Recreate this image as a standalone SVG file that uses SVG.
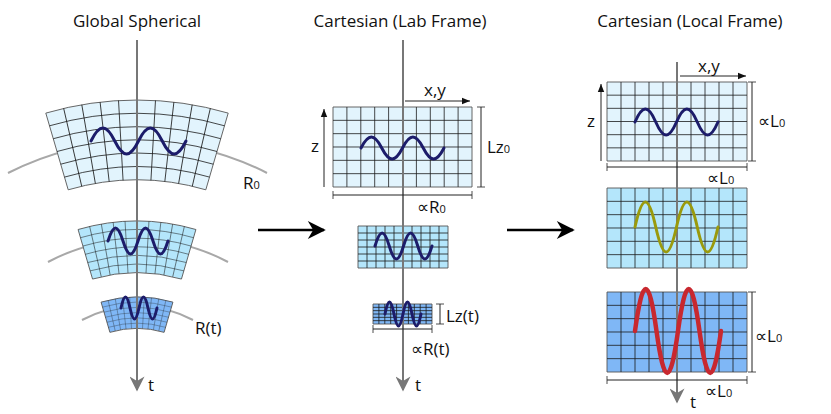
<svg xmlns="http://www.w3.org/2000/svg" xmlns:xlink="http://www.w3.org/1999/xlink" width="831" height="414" viewBox="0 0 831 414">
<style>
text{font-family:"Open Sans","Liberation Sans",sans-serif;fill:#111;}
.title{font-size:17px;text-anchor:middle;}
.lbl{font-size:17px;}
.sub{font-size:11px;}
.gl{fill:none;stroke:#1a1a1a;stroke-width:0.8;vector-effect:non-scaling-stroke;}
.bd{stroke:#555;stroke-width:0.9;vector-effect:non-scaling-stroke;}
.c1{fill:#e2f4fd;}
.c2{fill:#b4e6fb;}
.c3{fill:#7fb7f6;}
.ring{fill:none;stroke:#a8a8a8;stroke-width:2;}
.axis{stroke:#777;stroke-width:2;fill:none;}
.dim{stroke:#222;stroke-width:1;fill:none;}
.wv{fill:none;stroke:#1c1c6a;stroke-width:3;stroke-linecap:round;}
</style>
<defs>
<marker id="ah" viewBox="0 0 10 10" refX="9" refY="5" markerWidth="18" markerHeight="15" orient="auto" markerUnits="userSpaceOnUse"><path d="M0 0L10 5L0 10L3 5Z" fill="#777"/></marker>
<marker id="sa" viewBox="0 0 10 10" refX="10" refY="5" markerWidth="8" markerHeight="8" orient="auto" markerUnits="userSpaceOnUse"><path d="M0 1L10 5L0 9Z" fill="#111"/></marker>
<marker id="ba" viewBox="0 0 10 10" refX="9" refY="5" markerWidth="22" markerHeight="18" orient="auto" markerUnits="userSpaceOnUse"><path d="M0 0L10 5L0 10L3 5Z" fill="#000"/></marker>
<marker id="tk" viewBox="0 0 2 10" refX="1" refY="5" markerWidth="2" markerHeight="8" orient="auto" markerUnits="userSpaceOnUse"><path d="M1 0V10" stroke="#222" stroke-width="1"/></marker>
<path id="cg" class="gl" d="M1 0V6M2 0V6M3 0V6M4 0V6M5 0V6M6 0V6M7 0V6M8 0V6M9 0V6M0 1H10M0 2H10M0 3H10M0 4H10M0 5H10"/>
<g id="sg">
<path class="bd" d="M-91.2 -311.9A325 325 0 0 1 91.2 -311.9L68.8 -235.2A245 245 0 0 0 -68.8 -235.2Z"/>
<g class="gl">
<path d="M-87.5 -299.2A311.7 311.7 0 0 1 87.5 -299.2M-83.7 -286.3A298.3 298.3 0 0 1 83.7 -286.3M-80 -273.5A285 285 0 0 1 80 -273.5M-76.3 -260.8A271.7 271.7 0 0 1 76.3 -260.8M-72.5 -247.9A258.3 258.3 0 0 1 72.5 -247.9"/>
<path d="M0 -325V-245"/>
<path d="M0 -325V-245" transform="rotate(3.26)"/><path d="M0 -325V-245" transform="rotate(6.52)"/><path d="M0 -325V-245" transform="rotate(9.78)"/><path d="M0 -325V-245" transform="rotate(13.04)"/>
<path d="M0 -325V-245" transform="rotate(-3.26)"/><path d="M0 -325V-245" transform="rotate(-6.52)"/><path d="M0 -325V-245" transform="rotate(-9.78)"/><path d="M0 -325V-245" transform="rotate(-13.04)"/>
</g>
</g>
</defs>
<rect width="831" height="414" fill="#fff"/>

<g id="titles">
<text class="title" x="137" y="27">Global Spherical</text>
<text class="title" x="400" y="27">Cartesian (Lab Frame)</text>
<text class="title" x="690" y="27">Cartesian (Local Frame)</text>
</g>

<g id="connectors">
<path class="axis" d="M137 40V390" marker-end="url(#ah)"/>
<path class="axis" d="M403 40V390" marker-end="url(#ah)"/>
<path class="axis" d="M677 62V402" marker-end="url(#ah)"/>
<path d="M258 230H324" stroke="#000" stroke-width="2.5" marker-end="url(#ba)"/>
<path d="M507 230H573" stroke="#000" stroke-width="2.5" marker-end="url(#ba)"/>
</g>

<g id="spherical">
<path class="ring" d="M8 173A283 283 0 0 1 267 173"/>
<path class="ring" d="M48 262A191 191 0 0 1 228 262"/>
<path class="ring" d="M82 320A119 119 0 0 1 193 320"/>
<use xlink:href="#sg" class="c1" transform="translate(137 425)"/>
<use xlink:href="#sg" class="c2" transform="translate(137 431) scale(0.646)"/>
<use xlink:href="#sg" class="c3" transform="translate(137 425) scale(0.394)"/>
<path class="axis" d="M137 95V200M137 215V280M137 292V330"/>
<path class="wv" d="M91 141c8.55 -17.3 15.2 -17.3 23.75 0c8.55 17.3 15.2 17.3 23.75 0c8.55 -17.3 15.2 -17.3 23.75 0c8.55 17.3 15.2 17.3 23.75 0"/>
<path class="wv" d="M108 241c5.4 -17.3 9.6 -17.3 15 0c5.4 17.3 9.6 17.3 15 0c5.4 -17.3 9.6 -17.3 15 0c5.4 17.3 9.6 17.3 15 0"/>
<path class="wv" d="M121 308c3.24 -14.6 5.76 -14.6 9 0c3.24 14.6 5.76 14.6 9 0c3.24 -14.6 5.76 -14.6 9 0c3.24 14.6 5.76 14.6 9 0"/>
<text class="lbl" x="243" y="189">R<tspan class="sub">0</tspan></text>
<text class="lbl" x="195" y="334">R(t)</text>
<text class="lbl" x="148" y="391">t</text>
</g>

<g id="lab">
<rect class="c1 bd" x="333" y="107" width="139" height="80"/>
<use xlink:href="#cg" transform="translate(333 107) scale(13.9 13.333)"/>
<rect class="c2 bd" x="358" y="226" width="90" height="42"/>
<use xlink:href="#cg" transform="translate(358 226) scale(9 7)"/>
<rect class="c3 bd" x="373" y="304" width="59" height="20"/>
<use xlink:href="#cg" transform="translate(373 304) scale(5.9 3.333)"/>
<path class="axis" d="M403 100V330"/>
<path class="wv" d="M361 148c7.47 -14.6 13.28 -14.6 20.75 0c7.47 14.6 13.28 14.6 20.75 0c7.47 -14.6 13.28 -14.6 20.75 0c7.47 14.6 13.28 14.6 20.75 0"/>
<path class="wv" d="M375 246c5.13 -17.3 9.12 -17.3 14.25 0c5.13 17.3 9.12 17.3 14.25 0c5.13 -17.3 9.12 -17.3 14.25 0c5.13 17.3 9.12 17.3 14.25 0"/>
<path class="wv" d="M385 314c3.24 -16 5.76 -16 9 0c3.24 16 5.76 16 9 0c3.24 -16 5.76 -16 9 0c3.24 16 5.76 16 9 0"/>
<path class="dim" d="M324 187V109" marker-end="url(#sa)"/>
<path class="dim" d="M405 101H470" marker-end="url(#sa)"/>
<path class="dim" d="M481 107V187" marker-start="url(#tk)" marker-end="url(#tk)"/>
<path class="dim" d="M333 195H472" marker-start="url(#tk)" marker-end="url(#tk)"/>
<path class="dim" d="M440 304V324" marker-start="url(#tk)" marker-end="url(#tk)"/>
<path class="dim" d="M373 329H432" marker-start="url(#tk)" marker-end="url(#tk)"/>
<text class="lbl" x="311" y="152">z</text>
<text class="lbl" x="424" y="96">x,y</text>
<text class="lbl" x="487" y="153">Lz<tspan class="sub">0</tspan></text>
<text class="lbl" x="417" y="213">∝R<tspan class="sub">0</tspan></text>
<text class="lbl" x="446" y="322">Lz(t)</text>
<text class="lbl" x="411" y="355">∝R(t)</text>
<text class="lbl" x="415" y="391">t</text>
</g>

<g id="local">
<rect class="c1 bd" x="607" y="82" width="140" height="79"/>
<use xlink:href="#cg" transform="translate(607 82) scale(14 13.17)"/>
<rect class="c2 bd" x="607" y="188" width="140" height="80"/>
<use xlink:href="#cg" transform="translate(607 188) scale(14 13.33)"/>
<rect class="c3 bd" x="607" y="292" width="140" height="80"/>
<use xlink:href="#cg" transform="translate(607 292) scale(14 13.33)"/>
<path class="axis" d="M677 70V385"/>
<path class="wv" d="M635 122c7.47 -17.3 13.28 -17.3 20.75 0c7.47 17.3 13.28 17.3 20.75 0c7.47 -17.3 13.28 -17.3 20.75 0c7.47 17.3 13.28 17.3 20.75 0"/>
<path class="wv" style="stroke:#9a9a0c" d="M635 227c7.47 -33.3 13.28 -33.3 20.75 0c7.47 33.3 13.28 33.3 20.75 0c7.47 -33.3 13.28 -33.3 20.75 0c7.47 33.3 13.28 33.3 20.75 0"/>
<path class="wv" style="stroke:#c8282f;stroke-width:4.5" d="M635 331c7.74 -56 13.76 -56 21.5 0c7.74 56 13.76 56 21.5 0c7.74 -56 13.76 -56 21.5 0c7.74 56 13.76 56 21.5 0"/>
<path class="dim" d="M601 161V84" marker-end="url(#sa)"/>
<path class="dim" d="M680 76H746" marker-end="url(#sa)"/>
<path class="dim" d="M752 82V161" marker-start="url(#tk)" marker-end="url(#tk)"/>
<path class="dim" d="M607 167H747" marker-start="url(#tk)" marker-end="url(#tk)"/>
<path class="dim" d="M752 292V372" marker-start="url(#tk)" marker-end="url(#tk)"/>
<path class="dim" d="M607 380H747" marker-start="url(#tk)" marker-end="url(#tk)"/>
<text class="lbl" x="587" y="127">z</text>
<text class="lbl" x="698" y="72">x,y</text>
<text class="lbl" x="758" y="127">∝L<tspan class="sub">0</tspan></text>
<text class="lbl" x="707" y="184">∝L<tspan class="sub">0</tspan></text>
<text class="lbl" x="755" y="342">∝L<tspan class="sub">0</tspan></text>
<text class="lbl" x="705" y="397">∝L<tspan class="sub">0</tspan></text>
<text class="lbl" x="690" y="408">t</text>
</g>
</svg>
